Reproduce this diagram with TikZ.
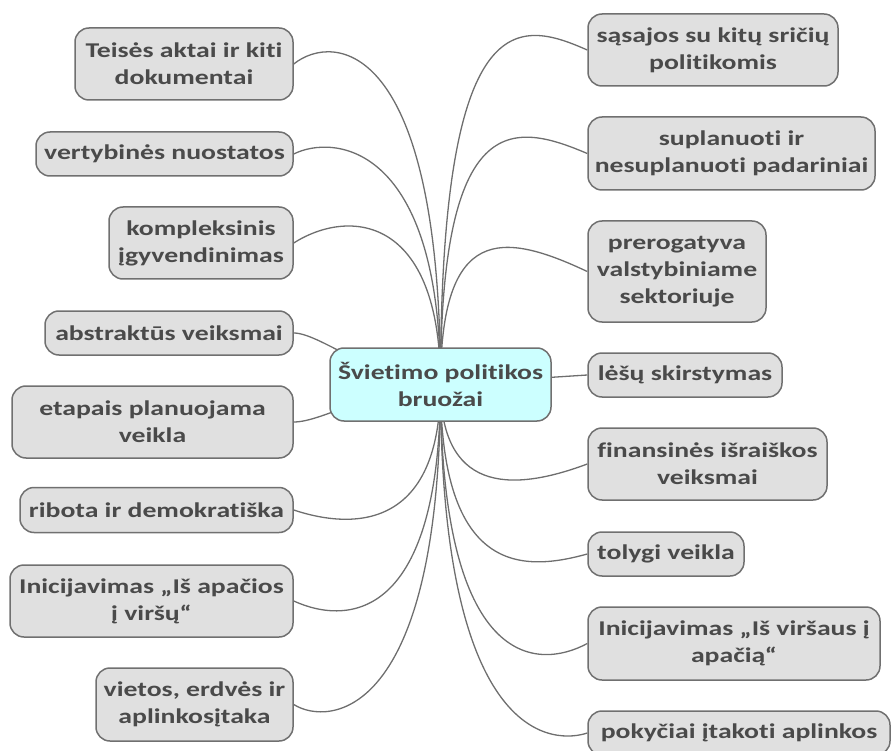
\documentclass[tikz,border=0pt]{standalone}
\usepackage{fontspec}
\setmainfont{Carlito}[FakeStretch=1.32, Ligatures={NoCommon}]
\definecolor{boxfill}{HTML}{E0E0E0}
\definecolor{boxline}{HTML}{707070}
\definecolor{txtgray}{HTML}{4A4A4A}
\definecolor{cfill}{HTML}{CCFFFF}
\definecolor{edgecol}{HTML}{6E6E6E}
\pgfdeclarelayer{edges}
\pgfsetlayers{edges,main}
\tikzset{
  box/.style={draw=boxline, fill=boxfill, rounded corners=14pt, line width=1.5pt,
    inner sep=0pt, align=center, text=txtgray,
    font=\bfseries\fontsize{21}{27}\selectfont},
  centerbox/.style={box, fill=cfill},
  edge/.style={draw=edgecol, line width=1.3pt}
}
\begin{document}
\begin{tikzpicture}[x=1pt,y=-1pt]
\useasboundingbox (0,0) rectangle (891,751);
\clip (0,0) rectangle (891,751);
% center
\node[centerbox, minimum width=221pt, minimum height=73pt] (c) at (440.5,384.5) {Švietimo politikos\\bruožai};
% left column
\node[box, minimum width=218pt, minimum height=72pt] (L1) at (184,64) {Teisės aktai ir kiti\\dokumentai};
\node[box, minimum width=257pt, minimum height=44pt] (L2) at (164.5,154) {vertybinės nuostatos};
\node[box, minimum width=184pt, minimum height=72pt] (L3) at (201,243) {kompleksinis\\įgyvendinimas};
\node[box, minimum width=248pt, minimum height=44pt] (L4) at (169,333) {abstraktūs veiksmai};
\node[box, minimum width=281pt, minimum height=72pt] (L5) at (152.5,422) {etapais planuojama\\veikla};
\node[box, minimum width=273pt, minimum height=45pt] (L6) at (156.5,510) {ribota ir demokratiška};
\node[box, minimum width=283pt, minimum height=72pt] (L7) at (151.5,601) {Inicijavimas „Iš apačios\\į viršų“};
\node[box, minimum width=197pt, minimum height=73pt] (L8) at (194.5,704.5) {vietos, erdvės ir\\aplinkosįtaka};
% right column
\node[box, minimum width=250pt, minimum height=72pt] (R1) at (713,50) {sąsajos su kitų sričių\\politikomis};
\node[box, minimum width=287pt, minimum height=73pt] (R2) at (731.5,153.5) {suplanuoti ir\\nesuplanuoti padariniai};
\node[box, minimum width=178pt, minimum height=101pt] (R3) at (677,271.5) {prerogatyva\\valstybiniame\\sektoriuje};
\node[box, minimum width=194pt, minimum height=44pt] (R4) at (685,375) {lėšų skirstymas};
\node[box, minimum width=239pt, minimum height=72pt] (R5) at (707.5,464) {finansinės išraiškos\\veiksmai};
\node[box, minimum width=156pt, minimum height=44pt] (R6) at (666,554) {tolygi veikla};
\node[box, minimum width=292pt, minimum height=73pt] (R7) at (734,643.5) {Inicijavimas „Iš viršaus į\\apačią“};
\node[box, minimum width=302pt, minimum height=44pt] (R8) at (739,733) {pokyčiai įtakoti aplinkos};
% connectors
\begin{pgfonlayer}{edges}
\draw[edge] (c.center) .. controls +(0,-345) and +(40,-32) .. (L1.east);
\draw[edge] (c.center) .. controls +(0,-241) and +(40,-20) .. (L2.east);
\draw[edge] (c.center) .. controls +(0,-170) and +(55,-35) .. (L3.east);
\draw[edge] (c.center) .. controls +(-60,0) and +(27,0) .. (L4.east);
\draw[edge] (c.center) .. controls +(-60,0) and +(30,0) .. (L5.east);
\draw[edge] (c.center) .. controls +(0,145) and +(60,20) .. (L6.east);
\draw[edge] (c.center) .. controls +(0,235) and +(55,25) .. (L7.east);
\draw[edge] (c.center) .. controls +(0,335) and +(35,22) .. (L8.east);
\draw[edge] (c.center) .. controls +(0,-385) and +(-68,-30) .. (R1.west);
\draw[edge] (c.center) .. controls +(0,-275) and +(-75,-32) .. (R2.west);
\draw[edge] (c.center) .. controls +(0,-160) and +(-85,-40) .. (R3.west);
\draw[edge] (c.center) -- (R4.west);
\draw[edge] (c.center) .. controls +(0,105) and +(-80,30) .. (R5.west);
\draw[edge] (c.center) .. controls +(0,190) and +(-65,18) .. (R6.west);
\draw[edge] (c.center) .. controls +(0,285) and +(-50,27) .. (R7.west);
\draw[edge] (c.center) .. controls +(0,365) and +(-30,10) .. (R8.west);
\end{pgfonlayer}
\end{tikzpicture}
\end{document}
